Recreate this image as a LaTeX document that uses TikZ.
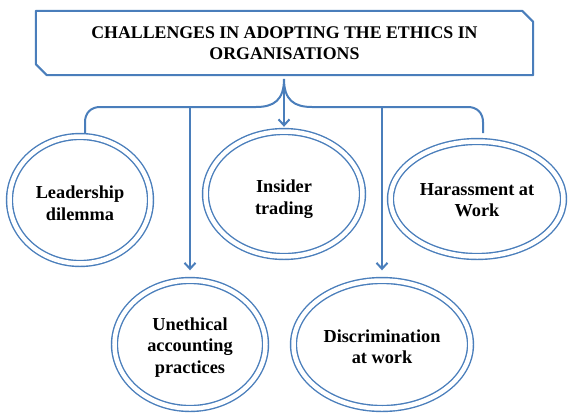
\documentclass[tikz,border=0pt]{standalone}
\usepackage{fontspec}
\setmainfont{Liberation Serif}
\usetikzlibrary{shapes.geometric,arrows.meta,calc}
\definecolor{lineblue}{HTML}{4A7EBB}
\begin{document}
\begin{tikzpicture}[x=1pt,y=-1pt,
  bubble/.style={ellipse, draw=lineblue, double=white, double distance=4.5pt, line width=1.4pt, inner sep=0pt},
  bubtext/.style={inner sep=0pt, align=center, font=\fontsize{18.3}{21.5}\selectfont\bfseries},
  conn/.style={draw=lineblue, line width=2pt},
  arr/.style={conn, -{Straight Barb[length=6pt,width=11pt]}},
  boxline/.style={draw=lineblue, line width=2pt, line join=round}]
\useasboundingbox (0,0) rectangle (571,418);

% title
\node[minimum width=497pt, minimum height=64pt, inner sep=0pt, align=center,
      font=\fontsize{17.8}{21}\selectfont\bfseries] (title) at (284.5,43)
  {CHALLENGES IN ADOPTING THE ETHICS IN\\ORGANISATIONS};
\draw[boxline] (title.north west) -- ($(title.north east)+(-11,0)$) -- ($(title.north east)+(0,11)$)
  -- (title.south east) -- ($(title.south west)+(11,0)$) -- ($(title.south west)+(0,-11)$) -- cycle;

% ellipses
\node[bubble, minimum width=141pt, minimum height=127pt] (lead) at (80,200) {};
\node[bubble, minimum width=157pt, minimum height=125pt] (ins) at (284,194) {};
\node[bubble, minimum width=173pt, minimum height=115pt] (har) at (477,199) {};
\node[bubble, minimum width=151pt, minimum height=128pt] (une) at (190,344.5) {};
\node[bubble, minimum width=177pt, minimum height=128pt] (dis) at (382,344.5) {};

% texts
\node[bubtext] (leadt) at ($(lead)+(0,3)$) {Leadership\\dilemma};
\node[bubtext] (inst) at ($(ins)+(0,5)$) {Insider\\trading};
\node[bubtext] (hart) at ($(har)+(0,1)$) {Harassment at\\Work};
\node[bubtext] (unet) at ($(une)+(0,3)$) {Unethical\\accounting\\practices};
\node[bubtext] (dist) at ($(dis)+(0,2)$) {Discrimination\\at work};

% brace
\coordinate (tip) at (284,79);
\coordinate (bl) at (85,133);
\coordinate (br) at (483,133);
\coordinate (jl) at (190,107);
\coordinate (jr) at (382,107);
\draw[conn] (bl) -- (85,122) .. controls (85,113) and (91,107) .. (100,107) -- (256,107)
  .. controls (274,107) and (284,100) .. (tip)
  .. controls (284,100) and (294,107) .. (312,107) -- (468,107)
  .. controls (477,107) and (483,113) .. (483,122) -- (br);

% arrows
\draw[arr, shorten >=4pt] (tip) -- (ins.north);
\draw[arr, shorten >=9.5pt] (jl) -- (une.north);
\draw[arr, shorten >=9.5pt] (jr) -- (dis.north);
\end{tikzpicture}
\end{document}
